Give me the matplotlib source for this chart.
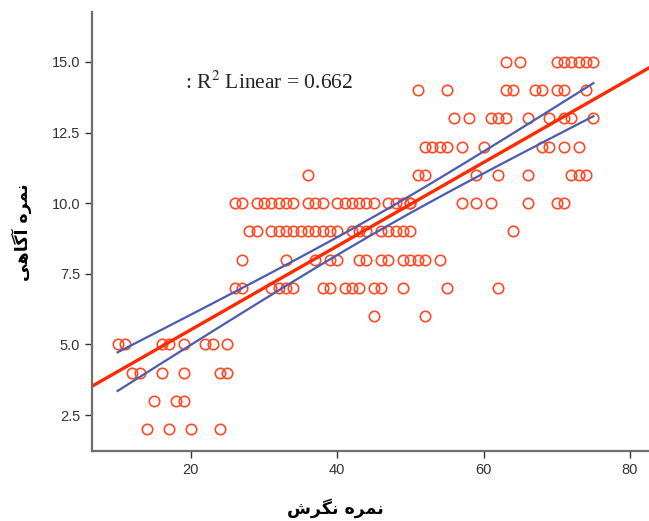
import numpy as np
import matplotlib
matplotlib.use("Agg")
import matplotlib.pyplot as plt

# scores, grouped by the y value (awareness score)
rows = {
    15: [63, 65, 70, 71, 72, 73, 74, 75],
    14: [51, 55, 63, 64, 67, 68, 70, 71, 74],
    13: [56, 58, 61, 62, 63, 66, 69, 71, 72, 75],
    12: [52, 53, 54, 55, 57, 60, 68, 69, 71, 73],
    11: [36, 51, 52, 59, 62, 66, 72, 73, 74],
    10: [26, 27, 29, 30, 31, 32, 33, 34, 36, 37, 38, 40, 41, 42, 43, 44,
         45, 47, 48, 49, 50, 50, 57, 59, 61, 66, 70, 71],
    9: [28, 29, 31, 32, 33, 34, 35, 36, 37, 38, 39, 40, 42, 43, 44, 46,
        47, 48, 49, 50, 64],
    8: [27, 33, 37, 39, 40, 43, 44, 46, 47, 49, 50, 51, 52, 54],
    7: [26, 27, 31, 32, 33, 34, 38, 39, 41, 42, 43, 45, 46, 49, 55, 62],
    6: [45, 52],
    5: [10, 11, 16, 17, 19, 22, 23, 25],
    4: [12, 13, 16, 19, 24, 25],
    3: [15, 18, 19],
    2: [14, 17, 20, 24],
}
r2_text = 0.662

x = np.array([v for k in rows for v in rows[k]], dtype=float)
y = np.array([k for k in rows for v in rows[k]], dtype=float)

# labels in visual order with Arabic presentation forms
xlabel = "\uFEB5\uFEAE\uFB95\uFEE7 \uFEE9\uFEAE\uFEE4\uFEE7"   # نمره نگرش
ylabel = "\uFBFD\uFEEB\uFE8E\uFB94\uFE81 \uFEE9\uFEAE\uFEE4\uFEE7"  # نمره آگاهی

# linear fit and 95% mean confidence band
n = len(x)
b, a = np.polyfit(x, y, 1)
res = y - (a + b * x)
s = np.sqrt(np.sum(res**2) / (n - 2))
sxx = np.sum((x - x.mean())**2)
xs = np.linspace(x.min(), x.max(), 100)
se = s * np.sqrt(1.0 / n + (xs - x.mean())**2 / sxx)
t = 1.976

fig = plt.figure(figsize=(6.49, 5.21), dpi=100)
ax = fig.add_axes([0.1418, 0.1344, 0.8582, 0.8426])

ax.plot(x, y, "o", mfc="none", mec="#FF4A26", ms=7.5, mew=1.2)

xl = (6.5, 82.6)
xx = np.array(xl)
ax.plot(xx, a + b * xx, color="#FF2A00", lw=2.4)
ax.plot(xs, a + b * xs + t * se, color="#4A5BB0", lw=1.6)
ax.plot(xs, a + b * xs - t * se, color="#4A5BB0", lw=1.6)

ax.set_xlim(*xl)
ax.set_ylim(1.23, 16.77)
ax.set_xticks([20, 40, 60, 80])
ax.set_yticks([2.5, 5.0, 7.5, 10.0, 12.5, 15.0])
ax.set_yticklabels(["%.1f" % v for v in [2.5, 5.0, 7.5, 10.0, 12.5, 15.0]])

for side in ["top", "right"]:
    ax.spines[side].set_visible(False)
for side in ["left", "bottom"]:
    ax.spines[side].set_color("#6E6E6E")
    ax.spines[side].set_linewidth(1.6)
ax.tick_params(direction="out", length=5, width=1, color="#333333",
               labelcolor="#333333", labelsize=10.5)
for lab in ax.get_xticklabels() + ax.get_yticklabels():
    lab.set_family("Liberation Sans")

ax.text(19.2, 14.25, r": R$^2$ Linear = %.3f" % r2_text, family="Liberation Serif",
        fontsize=15.5, ha="left", va="center", color="#222222",
        math_fontfamily="stix")

fig.text(335 / 649, 1 - 508 / 521, xlabel, ha="center", va="center",
         fontsize=12.5, fontweight="bold", family="DejaVu Sans")
fig.text(22 / 649, 1 - 232 / 521, ylabel, ha="center", va="center",
         rotation=90, fontsize=12.5, fontweight="bold", family="DejaVu Sans")

fig.savefig("out.png", dpi=100)
